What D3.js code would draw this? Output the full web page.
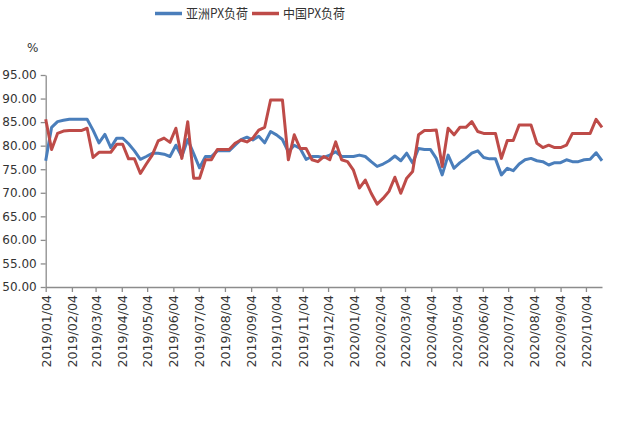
<!DOCTYPE html>
<html><head><meta charset="utf-8">
<script src="https://cdn.jsdelivr.net/npm/d3@7"></script>
<style>html,body{margin:0;padding:0;background:#fff;}svg{display:block;}</style>
</head><body>
<script>
const seriesNames = ["亚洲PX负荷", "中国PX负荷"];
const seriesColors = ["#4a7ebb", "#be4b48"];
const startDate = "2019-01-04";
const asia = [76.8,83.9,85.1,85.4,85.6,85.6,85.6,85.6,83.3,80.6,82.4,79.6,81.6,81.6,80.4,78.9,77.1,77.7,78.4,78.4,
  78.2,77.7,80.1,77.7,81.3,78.3,75.3,77.7,77.7,78.9,78.9,78.9,80.1,81.3,81.8,81.2,82.0,80.6,83.0,82.3,
  81.3,78.7,80.1,79.4,77.1,77.7,77.7,77.5,78.0,78.7,77.7,77.7,77.7,78.0,77.7,76.6,75.6,76.1,76.8,77.8,
  76.8,78.4,76.3,79.4,79.2,79.2,77.3,73.8,78.0,75.2,76.4,77.3,78.4,78.9,77.5,77.2,77.2,73.8,75.2,74.7,
  76.1,77.0,77.3,76.8,76.6,75.9,76.4,76.4,77.0,76.6,76.6,77.0,77.1,78.5,76.8];
const china = [85.6,79.2,82.6,83.1,83.2,83.2,83.2,83.7,77.5,78.6,78.6,78.6,80.3,80.3,77.2,77.2,74.1,76.1,78.0,81.0,
  81.6,80.7,83.7,77.3,85.1,73.1,73.1,77.0,77.0,79.2,79.2,79.2,80.5,81.2,80.8,81.6,83.3,83.9,89.7,89.7,
  89.7,77.0,82.3,79.4,79.4,77.0,76.6,77.7,77.0,80.8,77.0,76.6,74.8,71.0,72.7,69.9,67.6,68.8,70.3,73.3,
  69.9,73.1,74.5,82.3,83.2,83.2,83.3,75.6,83.7,82.3,83.9,83.9,85.1,83.0,82.6,82.6,82.6,77.3,81.1,81.1,
  84.4,84.4,84.4,80.5,79.6,80.1,79.6,79.6,80.1,82.6,82.6,82.6,82.6,85.6,83.9];
const xTickLabels = ["2019/01/04","2019/02/04","2019/03/04","2019/04/04","2019/05/04","2019/06/04","2019/07/04",
  "2019/08/04","2019/09/04","2019/10/04","2019/11/04","2019/12/04","2020/01/04","2020/02/04","2020/03/04",
  "2020/04/04","2020/05/04","2020/06/04","2020/07/04","2020/08/04","2020/09/04","2020/10/04"];
const yTicks = [50,55,60,65,70,75,80,85,90,95];

const W = 632, H = 425;
const parse = d3.timeParse("%Y-%m-%d");
const parseTick = d3.timeParse("%Y/%m/%d");
const start = parse(startDate);
const dates = asia.map((_, i) => d3.timeDay.offset(start, 7 * i));

const svg = d3.select("body").append("svg").attr("width", W).attr("height", H);

const x = d3.scaleTime().domain([dates[0], dates[dates.length - 1]]).range([45.7, 602]);
const y = d3.scaleLinear().domain([50, 95]).range([287, 75]);

// Y axis
const yAxis = d3.axisLeft(y).tickValues(yTicks).tickFormat(d3.format(".2f")).tickSize(5).tickSizeOuter(0);
const gy = svg.append("g").attr("transform", "translate(45.7,0)").call(yAxis);
gy.select(".domain").attr("stroke", "#8c8c8c").attr("stroke-width", 1.3);
gy.selectAll(".tick line").attr("stroke", "#8c8c8c").attr("stroke-width", 1.3);
gy.selectAll(".tick text").attr("x", -9).attr("fill", "#333")
  .style("font-family", "'DejaVu Sans', sans-serif").style("font-size", "12px");

// X axis
const xAxis = d3.axisBottom(x).tickValues(xTickLabels.map(parseTick))
  .tickFormat(d3.timeFormat("%Y/%m/%d")).tickSize(5).tickSizeOuter(0);
const gx = svg.append("g").attr("transform", "translate(0,287)").call(xAxis);
gx.select(".domain").attr("stroke", "#8c8c8c").attr("stroke-width", 1.3);
gx.selectAll(".tick line").attr("stroke", "#8c8c8c").attr("stroke-width", 1.3);
gx.selectAll(".tick text")
  .attr("transform", "rotate(-90)")
  .attr("x", -8).attr("y", 0).attr("dy", "0.35em")
  .attr("text-anchor", "end").attr("fill", "#333")
  .style("font-family", "'DejaVu Sans', sans-serif").style("font-size", "12.6px");

// Lines
const line = d3.line().x((d, i) => x(dates[i])).y(d => y(d));
[asia, china].forEach((s, k) => {
  svg.append("path").datum(s).attr("d", line)
    .attr("fill", "none").attr("stroke", seriesColors[k]).attr("stroke-width", 3)
    .attr("stroke-linejoin", "round");
});

// % label
svg.append("text").attr("x", 27).attr("y", 52).text("%")
  .attr("fill", "#333").style("font-family", "'DejaVu Sans', sans-serif").style("font-size", "12px");

// Legend
const legendItems = [{sx: 155, tx: 186}, {sx: 252, tx: 283}];
legendItems.forEach((p, k) => {
  svg.append("line").attr("x1", p.sx).attr("x2", p.sx + 27).attr("y1", 13.5).attr("y2", 13.5)
    .attr("stroke", seriesColors[k]).attr("stroke-width", 3.5);
  svg.append("text").attr("x", p.tx).attr("y", 13.5).attr("dy", "0.36em").text(seriesNames[k])
    .attr("fill", "#333").attr("textLength", 62).attr("lengthAdjust", "spacingAndGlyphs")
    .style("font-family", "'Noto Sans CJK SC', sans-serif").style("font-size", "13px");
});
</script>
</body></html>
